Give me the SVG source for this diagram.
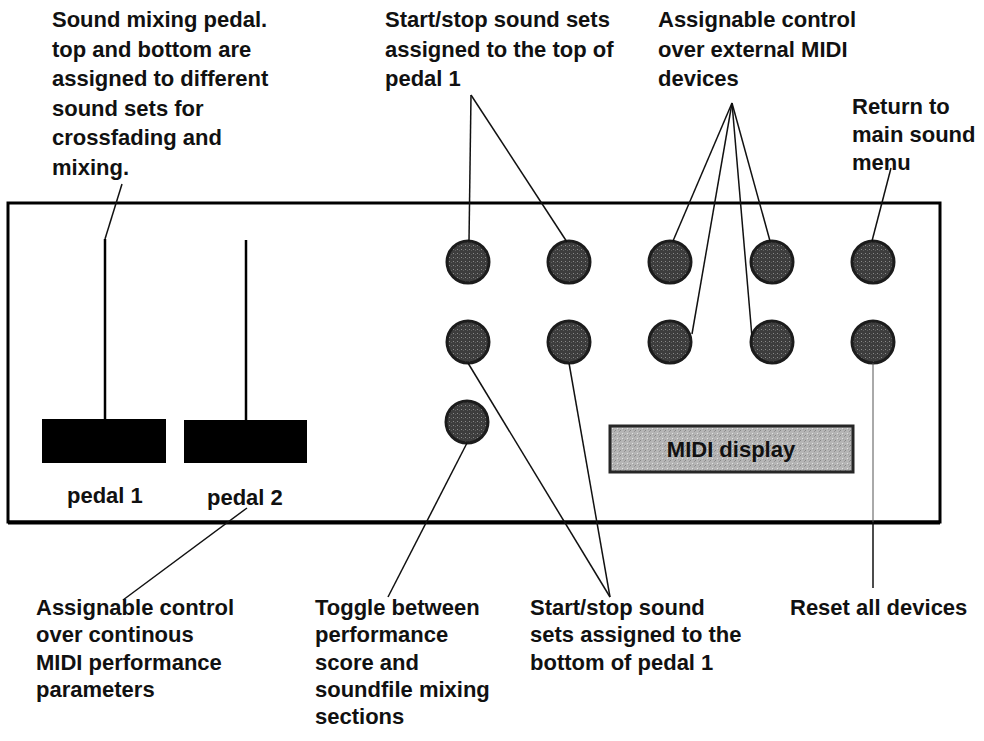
<svg xmlns="http://www.w3.org/2000/svg" width="984" height="741" viewBox="0 0 984 741">
  <defs>
    <!-- speckled knob surface -->
    <pattern id="knobGrain" width="4" height="4" patternUnits="userSpaceOnUse">
      <rect width="4" height="4" fill="#3d3d3d"/>
      <rect x="1" y="1" width="1" height="1" fill="#8a8a8a"/>
      <rect x="3" y="2" width="1" height="1" fill="#5e5e5e"/>
    </pattern>
    <!-- grainy display surface -->
    <pattern id="displayGrain" width="5" height="5" patternUnits="userSpaceOnUse">
      <rect width="5" height="5" fill="#b5b5b5"/>
      <rect x="0" y="0" width="1" height="1" fill="#858585"/>
      <rect x="2" y="3" width="1" height="1" fill="#e2e2e2"/>
      <rect x="4" y="1" width="1" height="1" fill="#949494"/>
      <rect x="3" y="4" width="1" height="1" fill="#a0a0a0"/>
    </pattern>
  </defs>
  <style>
    text { font-family: "Liberation Sans", Arial, Helvetica, sans-serif; font-weight: bold; font-size: 22px; fill: #111; }
    .knob { fill: url(#knobGrain); stroke: #1c1c1c; stroke-width: 3; }
    .pedal { fill: #000; }
    .stem { stroke: #000; stroke-width: 2.5; fill: none; }
    .lead { stroke: #111; stroke-width: 1.5; fill: none; }
    .lead-thin { stroke: #555; stroke-width: 1; fill: none; }
    .panel { fill: none; stroke: #000; stroke-width: 3; }
  </style>

  <rect width="984" height="741" fill="#fff"/>

  <!-- control panel outline -->
  <g id="panel">
    <rect class="panel" x="8" y="203" width="932" height="319"/>
    <line x1="8" y1="522.5" x2="940" y2="522.5" stroke="#000" stroke-width="4"/>
  </g>

  <!-- pedals -->
  <g id="pedal1">
    <line class="stem" x1="105" y1="239" x2="105" y2="420"/>
    <rect class="pedal" x="42" y="419" width="124" height="44"/>
    <text x="67" y="503">pedal 1</text>
  </g>
  <g id="pedal2">
    <line class="stem" x1="246" y1="240" x2="246" y2="421"/>
    <rect class="pedal" x="184" y="420" width="123" height="43"/>
    <text x="207" y="505">pedal 2</text>
  </g>

  <!-- knobs -->
  <g id="knob-r1c1"><circle class="knob" cx="468" cy="262" r="21"/></g>
  <g id="knob-r1c2"><circle class="knob" cx="569" cy="262" r="21"/></g>
  <g id="knob-r1c3"><circle class="knob" cx="670" cy="262" r="21"/></g>
  <g id="knob-r1c4"><circle class="knob" cx="772" cy="262" r="21"/></g>
  <g id="knob-r1c5"><circle class="knob" cx="873" cy="262" r="21"/></g>
  <g id="knob-r2c1"><circle class="knob" cx="468" cy="342" r="21"/></g>
  <g id="knob-r2c2"><circle class="knob" cx="569" cy="342" r="21"/></g>
  <g id="knob-r2c3"><circle class="knob" cx="670" cy="342" r="21"/></g>
  <g id="knob-r2c4"><circle class="knob" cx="772" cy="342" r="21"/></g>
  <g id="knob-r2c5"><circle class="knob" cx="873" cy="342" r="21"/></g>
  <g id="knob-r3c1"><circle class="knob" cx="467" cy="422" r="21"/></g>

  <!-- display -->
  <g id="midi-display">
    <rect x="610" y="426" width="243" height="46" fill="url(#displayGrain)" stroke="#262626" stroke-width="3"/>
    <text x="731" y="457" text-anchor="middle" fill="#111">MIDI display</text>
  </g>

  <!-- callout texts -->
  <g id="label-mixing-pedal">
    <text x="52" y="27">Sound mixing pedal.</text>
    <text x="52" y="56.5">top and bottom are</text>
    <text x="52" y="86">assigned to different</text>
    <text x="52" y="115.5">sound sets for</text>
    <text x="52" y="145">crossfading and</text>
    <text x="52" y="175">mixing.</text>
  </g>
  <g id="label-top-sets">
    <text x="385" y="27">Start/stop sound sets</text>
    <text x="385" y="56.5">assigned to the top of</text>
    <text x="385" y="86">pedal 1</text>
  </g>
  <g id="label-external-midi">
    <text x="658" y="27">Assignable control</text>
    <text x="658" y="56.5">over external MIDI</text>
    <text x="658" y="86">devices</text>
  </g>
  <g id="label-return">
    <text x="852" y="114">Return to</text>
    <text x="852" y="142">main sound</text>
    <text x="852" y="170">menu</text>
  </g>
  <g id="label-continuous">
    <text x="36" y="615">Assignable control</text>
    <text x="36" y="642">over continous</text>
    <text x="36" y="670">MIDI performance</text>
    <text x="36" y="697">parameters</text>
  </g>
  <g id="label-toggle">
    <text x="315" y="615">Toggle between</text>
    <text x="315" y="642">performance</text>
    <text x="315" y="670">score and</text>
    <text x="315" y="697">soundfile mixing</text>
    <text x="315" y="724">sections</text>
  </g>
  <g id="label-bottom-sets">
    <text x="530" y="615">Start/stop sound</text>
    <text x="530" y="642">sets assigned to the</text>
    <text x="530" y="670">bottom of pedal 1</text>
  </g>
  <g id="label-reset">
    <text x="790" y="615">Reset all devices</text>
  </g>

  <!-- leader lines -->
  <g id="connectors">
    <line class="lead" x1="122" y1="184" x2="105" y2="239"/>
    <line class="lead" x1="471" y1="95" x2="469" y2="241"/>
    <line class="lead" x1="471" y1="95" x2="567" y2="242"/>
    <line class="lead" x1="732" y1="103" x2="673" y2="241"/>
    <line class="lead" x1="732" y1="103" x2="770" y2="241"/>
    <line class="lead" x1="732" y1="103" x2="692" y2="334"/>
    <line class="lead" x1="732" y1="103" x2="752" y2="337"/>
    <line class="lead" x1="891" y1="168" x2="872" y2="241"/>
    <line class="lead-thin" x1="873" y1="363" x2="873" y2="522"/>
    <line class="lead" x1="873" y1="522" x2="873" y2="588"/>
    <line class="lead" x1="247" y1="508" x2="123" y2="600"/>
    <line class="lead" x1="467" y1="443" x2="388" y2="597"/>
    <line class="lead" x1="468" y1="363" x2="610" y2="597"/>
    <line class="lead" x1="569" y1="363" x2="610" y2="597"/>
  </g>
</svg>
